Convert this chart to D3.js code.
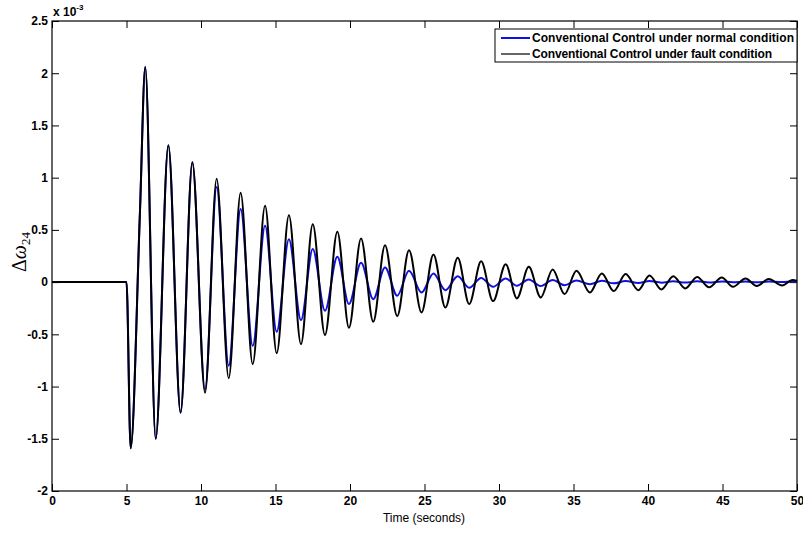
<!DOCTYPE html>
<html>
<head>
<meta charset="utf-8">
<script src="https://cdn.jsdelivr.net/npm/d3@7"></script>
<style>
  body { margin: 0; background: #fff; }
  .tick text { font-family: "Liberation Sans", Arial, sans-serif; font-size: 12px; font-weight: bold; fill: #000; }
  .tick line { stroke: #000; }
</style>
</head>
<body>
<svg id="chart" width="803" height="534"></svg>
<script>
// peaks and troughs (values in units of 1e-3)
const times = [0, 5.0, 5.28, 5.9, 6.26, 6.96, 7.81, 8.63, 9.42, 10.27,
  11.05, 11.86, 12.66, 13.47, 14.3, 15.08, 15.9, 16.71, 17.5, 18.32,
  19.15, 19.93, 20.74, 21.56, 22.35, 23.17, 23.96, 24.8, 25.6, 26.4,
  27.23, 28.0, 28.8, 29.6, 30.45, 31.2, 32.0, 32.8, 33.6, 34.4,
  35.2, 36.1, 36.9, 37.7, 38.5, 39.35, 40.1, 40.9, 41.7, 42.5,
  43.3, 44.1, 44.95, 45.7, 46.55, 47.3, 48.1, 49.0, 49.7, 50];
const normalCond = [0, 0, -1.59, 0.66, 2.06, -1.50, 1.31, -1.25, 1.14, -1.03,
  0.91, -0.80, 0.70, -0.61, 0.54, -0.475, 0.41, -0.364, 0.316, -0.275,
  0.243, -0.21, 0.185, -0.163, 0.14, -0.13, 0.108, -0.10, 0.083, -0.077,
  0.057, -0.054, 0.04, -0.045, 0.035, -0.035, 0.026, -0.038, 0.02, -0.03,
  0.015, -0.02, 0.012, -0.012, 0.01, -0.008, 0.01, -0.005, 0.008, -0.004,
  0.008, -0.003, 0.007, -0.002, 0.006, -0.002, 0.006, 0.0, 0.005, 0.005];
const faultCond = [0, 0, -1.59, 0.66, 2.06, -1.50, 1.31, -1.25, 1.15, -1.06,
  0.99, -0.92, 0.855, -0.785, 0.73, -0.68, 0.64, -0.594, 0.555, -0.507,
  0.482, -0.437, 0.418, -0.38, 0.354, -0.326, 0.306, -0.29, 0.265, -0.243,
  0.233, -0.21, 0.20, -0.182, 0.172, -0.156, 0.147, -0.147, 0.12, -0.115,
  0.108, -0.10, 0.083, -0.086, 0.077, -0.077, 0.064, -0.07, 0.057, -0.06,
  0.05, -0.05, 0.045, -0.045, 0.035, -0.038, 0.03, -0.032, 0.02, 0.01];
const xTicks = [0, 5, 10, 15, 20, 25, 30, 35, 40, 45, 50];
const yTicks = [-2, -1.5, -1, -0.5, 0, 0.5, 1, 1.5, 2, 2.5];
const legendLabels = ["Conventional Control under normal condition", "Conventional Control under fault condition"];

const svg = d3.select("#chart");
const margins = {top: 21, right: 6, bottom: 43, left: 52};
const chartWidth = svg.attr("width") - margins.left - margins.right;
const chartHeight = svg.attr("height") - margins.top - margins.bottom;

const scaleT = d3.scaleLinear().domain([0, 50]).range([0, chartWidth]);
const scaleW = d3.scaleLinear().domain([-2, 2.5]).range([chartHeight, 0]);

let chartArea = svg.append("g")
  .attr("transform", `translate(${margins.left},${margins.top})`);

// axes, ticks pointing inward like matlab
chartArea.append("g")
  .call(d3.axisLeft(scaleW).tickValues(yTicks).tickSize(-7).tickPadding(4).tickFormat(d => String(d)))
  .call(g => g.select(".domain").remove());
chartArea.append("g")
  .attr("transform", `translate(${chartWidth},0)`)
  .call(d3.axisRight(scaleW).tickValues(yTicks).tickSize(-7).tickFormat(""))
  .call(g => g.select(".domain").remove());
chartArea.append("g")
  .attr("transform", `translate(0,${chartHeight})`)
  .call(d3.axisBottom(scaleT).tickValues(xTicks).tickSize(-7).tickPadding(5))
  .call(g => g.select(".domain").remove());
chartArea.append("g")
  .call(d3.axisTop(scaleT).tickValues(xTicks).tickSize(-7).tickFormat(""))
  .call(g => g.select(".domain").remove());

chartArea.append("rect")
  .attr("width", chartWidth)
  .attr("height", chartHeight)
  .attr("fill", "none")
  .attr("stroke", "#000")
  .attr("stroke-width", 1.2);

// the two traces
const line = d3.line()
  .x(d => scaleT(d[0]))
  .y(d => scaleW(d[1]))
  .curve(d3.curveMonotoneX);

chartArea.append("path")
  .datum(times.map((t, i) => [t, normalCond[i]]))
  .attr("fill", "none")
  .attr("stroke", "#1010e0")
  .attr("stroke-width", 2)
  .attr("d", line);
chartArea.append("path")
  .datum(times.map((t, i) => [t, faultCond[i]]))
  .attr("fill", "none")
  .attr("stroke", "#000")
  .attr("stroke-width", 2)
  .attr("d", line);

// legend
let legend = svg.append("g").attr("transform", "translate(495,29)");
legend.append("rect")
  .attr("width", 302).attr("height", 33)
  .attr("fill", "#fff").attr("stroke", "#000");
legendLabels.forEach((lab, i) => {
  legend.append("line")
    .attr("x1", 6).attr("x2", 35)
    .attr("y1", 9 + i * 16).attr("y2", 9 + i * 16)
    .attr("stroke", i == 0 ? "#1010e0" : "#333")
    .attr("stroke-width", i == 0 ? 2 : 1.5);
  legend.append("text")
    .attr("x", 37).attr("y", 13 + i * 16)
    .attr("font-family", "Liberation Sans, Arial, sans-serif")
    .attr("font-size", 12).attr("font-weight", "bold")
    .attr("textLength", i == 0 ? 262 : 240)
    .text(lab);
});

// exponent label
let expo = svg.append("text")
  .attr("x", 53).attr("y", 16)
  .attr("font-family", "Liberation Sans, Arial, sans-serif")
  .attr("font-size", 12).attr("font-weight", "bold");
expo.append("tspan").text("x 10");
expo.append("tspan").attr("dy", -6).attr("font-size", 8).text("-3");

// y label
let ylab = svg.append("text")
  .attr("transform", "translate(26,252) rotate(-90)")
  .attr("text-anchor", "middle")
  .attr("font-family", "Liberation Serif, Times New Roman, serif")
  .attr("font-size", 20);
ylab.append("tspan").text("Δ");
ylab.append("tspan").attr("font-style", "italic").text("ω");
ylab.append("tspan").attr("dy", 4).attr("font-size", 13).text("24");

// x label
svg.append("text")
  .attr("x", 424).attr("y", 522)
  .attr("text-anchor", "middle")
  .attr("font-family", "Liberation Sans Narrow, Liberation Sans, Arial, sans-serif")
  .attr("font-size", 12)
  .text("Time (seconds)");
</script>
</body>
</html>
